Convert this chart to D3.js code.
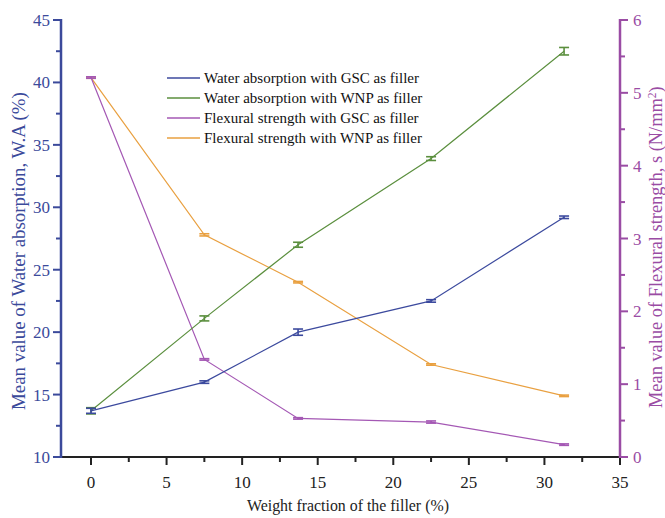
<!DOCTYPE html>
<html><head><meta charset="utf-8">
<script src="https://cdn.jsdelivr.net/npm/d3@7"></script>
<style>body{margin:0;background:#fff}svg{display:block}</style>
</head><body><svg id="c" width="665" height="518" font-family="'Liberation Serif', 'DejaVu Serif', serif"></svg>
<script>
const xValues = [0, 7.5, 13.7, 22.5, 31.3];
const waterGSC = [13.7, 16.0, 20.0, 22.5, 29.2];
const waterGSCErr = [0.2, 0.1, 0.25, 0.1, 0.1];
const waterWNP = [13.7, 21.1, 27.0, 33.9, 42.5];
const waterWNPErr = [0.25, 0.2, 0.2, 0.15, 0.3];
const flexGSC = [5.21, 1.34, 0.53, 0.48, 0.17];
const flexGSCErr = [0.01, 0.01, 0.01, 0.015, 0.01];
const flexWNP = [5.21, 3.05, 2.40, 1.27, 0.84];
const flexWNPErr = [0.01, 0.015, 0.01, 0.01, 0.01];
const seriesNames = ["Water absorption with GSC as filler","Water absorption with WNP as filler","Flexural strength with GSC as filler","Flexural strength with WNP as filler"];
const xTicks = [0,5,10,15,20,25,30,35];
const yLeftTicks = [10,15,20,25,30,35,40,45];
const yRightTicks = [0,1,2,3,4,5,6];

const svg = d3.select("#c");
const L=61, R=620, T=20, B=457;
const x = d3.scaleLinear().domain([(-(91-L)/((R-91)/35)), 35]).range([L, R]);
const yL = d3.scaleLinear().domain([10,45]).range([B,T]);
const yR = d3.scaleLinear().domain([0,6]).range([B,T]);

const blue="#3c4a9e", green="#5b8f3e", purple="#a458b4", orange="#e9a040";
const axBlue="#3b4a9b", axPurple="#9a4ca4";

function drawSeries(vals, errs, y, color){
  const line = d3.line().x((d,i)=>x(xValues[i])).y(d=>y(d));
  svg.append("path").attr("d", line(vals)).attr("fill","none").attr("stroke",color).attr("stroke-width",1.2);
  const g = svg.append("g").attr("stroke",color).attr("stroke-width",1.6);
  vals.forEach((v,i)=>{
    const cx=x(xValues[i]), y1=y(v+errs[i]), y2=y(v-errs[i]);
    g.append("line").attr("x1",cx).attr("x2",cx).attr("y1",y1).attr("y2",y2);
    g.append("line").attr("x1",cx-5).attr("x2",cx+5).attr("y1",y1).attr("y2",y1);
    g.append("line").attr("x1",cx-5).attr("x2",cx+5).attr("y1",y2).attr("y2",y2);
  });
}
drawSeries(flexWNP, flexWNPErr, yR, orange);
drawSeries(flexGSC, flexGSCErr, yR, purple);
drawSeries(waterWNP, waterWNPErr, yL, green);
drawSeries(waterGSC, waterGSCErr, yL, blue);

// bottom axis
const gx = svg.append("g").attr("transform",`translate(0,${B})`);
gx.append("line").attr("x1",L).attr("x2",R).attr("stroke","#222").attr("stroke-width",2);
d3.range(0,35.01,2.5).forEach(v=>{
  const major = Math.abs(v%5)<1e-6;
  gx.append("line").attr("x1",x(v)).attr("x2",x(v)).attr("y1",0).attr("y2",major?8:5).attr("stroke","#222").attr("stroke-width",2);
});
gx.selectAll("text.t").data(xTicks).enter().append("text").attr("x",d=>x(d)).attr("y",31).attr("text-anchor","middle").attr("font-size",17).attr("fill","#222").text(d=>d);

// left axis
const gl = svg.append("g").attr("transform",`translate(${L},0)`);
gl.append("line").attr("y1",T-1).attr("y2",B+1).attr("stroke",axBlue).attr("stroke-width",2.5);
d3.range(10,45.01,2.5).forEach(v=>{
  const major = Math.abs(v%5)<1e-6;
  gl.append("line").attr("x1",0).attr("x2",major?-8:-5).attr("y1",yL(v)).attr("y2",yL(v)).attr("stroke",axBlue).attr("stroke-width",2);
});
gl.selectAll("text").data(yLeftTicks).enter().append("text").attr("x",-11).attr("y",d=>yL(d)+6).attr("text-anchor","end").attr("font-size",17).attr("fill",axBlue).text(d=>d);

// right axis
const gr = svg.append("g").attr("transform",`translate(${R},0)`);
gr.append("line").attr("y1",T-1).attr("y2",B+1).attr("stroke",axPurple).attr("stroke-width",2.5);
d3.range(0,6.01,0.5).forEach(v=>{
  const major = Math.abs(v%1)<1e-6;
  gr.append("line").attr("x1",0).attr("x2",major?8:5).attr("y1",yR(v)).attr("y2",yR(v)).attr("stroke",axPurple).attr("stroke-width",2);
});
gr.selectAll("text").data(yRightTicks).enter().append("text").attr("x",13).attr("y",d=>yR(d)+6).attr("text-anchor","start").attr("font-size",17).attr("fill",axPurple).text(d=>d);

function fit(t, target){
  const len = t.node().getComputedTextLength();
  const k = target/len;
  t.attr("font-size", +t.attr("font-size")*k);
  t.selectAll("tspan").each(function(){
    const s=d3.select(this); if(s.attr("font-size")) s.attr("font-size", +s.attr("font-size")*k);
  });
}
// axis titles
const bt = svg.append("text").attr("x",247).attr("y",511).attr("text-anchor","start").attr("font-size",16).attr("fill","#222").text("Weight fraction of the filler (%)");
fit(bt, 202);
const lt = svg.append("text").attr("transform",`translate(25,410) rotate(-90)`).attr("text-anchor","start").attr("font-size",16).attr("fill",axBlue).text("Mean value of Water absorption, W.A (%)");
fit(lt, 318);
const rt = svg.append("text").attr("transform",`translate(662,408) rotate(-90)`).attr("text-anchor","start").attr("font-size",16).attr("fill",axPurple);
rt.append("tspan").text("Mean value of Flexural strength, s (N/mm");
rt.append("tspan").attr("font-size",10).attr("dy",-6).text("2");
rt.append("tspan").attr("dy",6).text(")");
fit(rt, 322);

// legend
const colors=[blue,green,purple,orange];
seriesNames.forEach((n,i)=>{
  const yy = 78 + i*20;
  svg.append("line").attr("x1",167).attr("x2",200).attr("y1",yy).attr("y2",yy).attr("stroke",colors[i]).attr("stroke-width",1.3);
  svg.append("text").attr("x",204).attr("y",yy+5).attr("font-size",15).attr("fill","#111").text(n);
});
</script></body></html>
